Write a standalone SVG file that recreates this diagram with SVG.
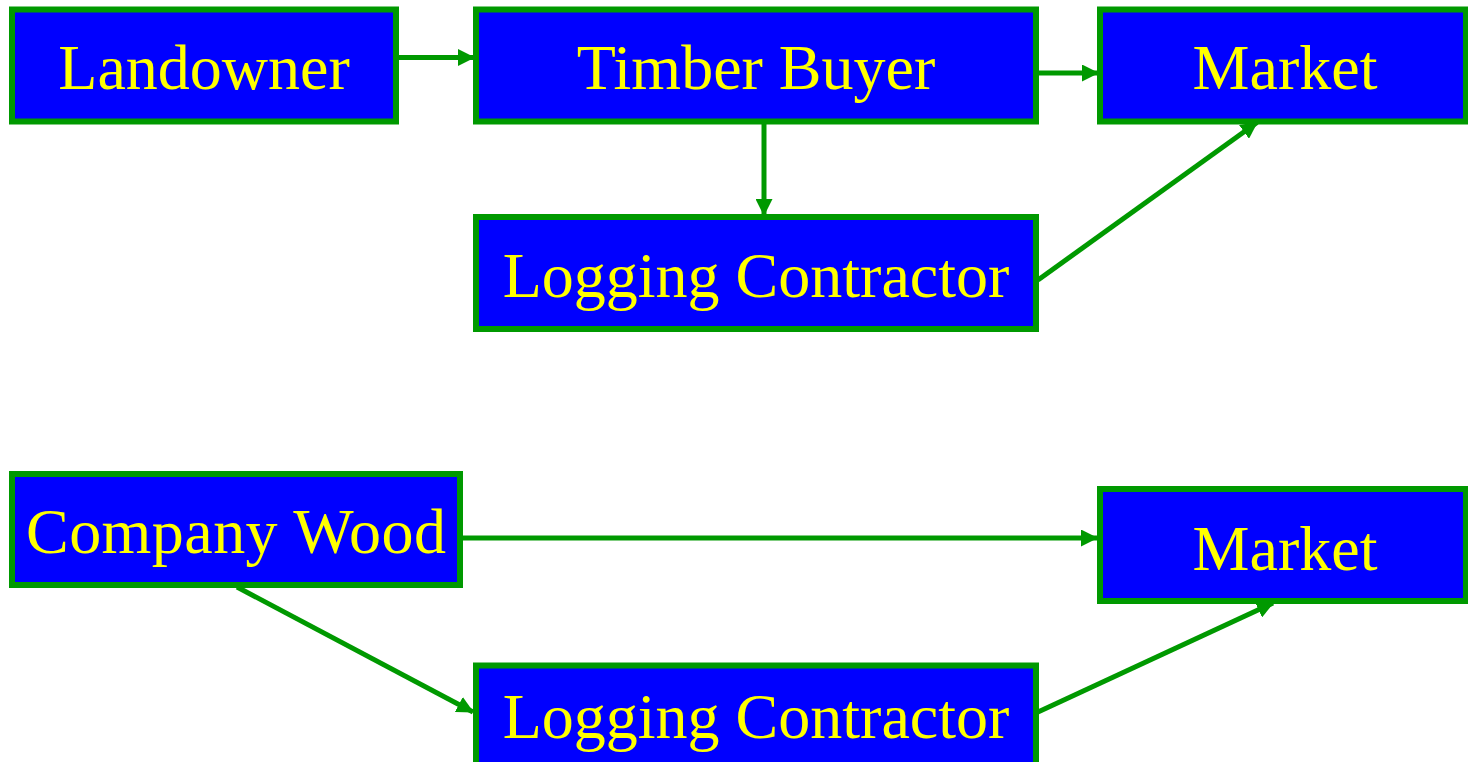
<svg xmlns="http://www.w3.org/2000/svg" width="1468" height="762" viewBox="0 0 1468 762">
  <style>
    .box { fill: #0000ff; stroke: #009900; stroke-width: 6; }
    .lbl { fill: #ffff00; font-family: "Liberation Serif", "Times New Roman", serif; font-size: 64px; text-anchor: middle; }
    .link { stroke: #009900; stroke-width: 5; fill: none; marker-end: url(#arrow); }
  </style>
  <defs>
    <marker id="arrow" markerUnits="userSpaceOnUse" markerWidth="17" markerHeight="17" refX="16" refY="8.5" orient="auto">
      <path d="M0,0 L17,8.5 L0,17 z" fill="#009900"/>
    </marker>
  </defs>

  <!-- upper chain -->
  <g id="landowner">
    <rect class="box" x="12" y="9.5" width="384" height="112"/>
    <text class="lbl" x="204" y="89">Landowner</text>
  </g>
  <g id="timber-buyer">
    <rect class="box" x="476" y="9.5" width="560" height="112"/>
    <text class="lbl" x="756" y="89">Timber Buyer</text>
  </g>
  <g id="market-1">
    <rect class="box" x="1100" y="9.5" width="366" height="112"/>
    <text class="lbl" x="1285" y="89">Market</text>
  </g>
  <g id="logging-contractor-1">
    <rect class="box" x="476" y="217" width="560" height="112"/>
    <text class="lbl" x="756" y="297">Logging Contractor</text>
  </g>

  <!-- lower chain -->
  <g id="company-wood">
    <rect class="box" x="12" y="474" width="448" height="111"/>
    <text class="lbl" x="236" y="553" textLength="420">Company Wood</text>
  </g>
  <g id="market-2">
    <rect class="box" x="1100" y="489" width="366" height="112"/>
    <text class="lbl" x="1285" y="570">Market</text>
  </g>
  <g id="logging-contractor-2">
    <rect class="box" x="476" y="665.5" width="560" height="112"/>
    <text class="lbl" x="756" y="738">Logging Contractor</text>
  </g>

  <g id="connectors">
    <line class="link" x1="399" y1="57.5" x2="474" y2="57.5"/>
    <line class="link" x1="1039" y1="73" x2="1098" y2="73"/>
    <line class="link" x1="764" y1="124" x2="764" y2="215"/>
    <line class="link" x1="1038" y1="280" x2="1257" y2="122.5"/>
    <line class="link" x1="463" y1="538" x2="1097" y2="538"/>
    <line class="link" x1="237" y1="587" x2="473" y2="712"/>
    <line class="link" x1="1038" y1="712" x2="1273" y2="603"/>
  </g>
</svg>
